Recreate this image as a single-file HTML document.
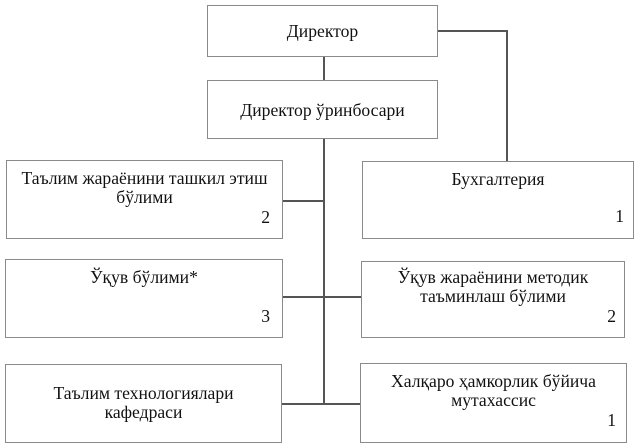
<!DOCTYPE html>
<html><head><meta charset="utf-8"><style>
body{margin:0;width:642px;height:447px;background:#fff;position:relative;overflow:hidden;font-family:"Liberation Serif",serif;color:#111}
.b{position:absolute;border:1px solid #8a8a8a;box-sizing:border-box;background:#fff}
.t{position:absolute;left:0;right:0;text-align:center;font-size:17.6px;line-height:19px;white-space:nowrap}
.n{position:absolute;font-size:17.6px;line-height:19px}
.l{position:absolute;background:#555}
</style></head><body>
<div class="l" style="left:323px;top:56px;width:2px;height:25px"></div>
<div class="l" style="left:323px;top:139px;width:2px;height:266px"></div>
<div class="l" style="left:437px;top:30px;width:71px;height:2px"></div>
<div class="l" style="left:506px;top:30px;width:2px;height:132px"></div>
<div class="l" style="left:282px;top:200px;width:42px;height:2px"></div>
<div class="l" style="left:282px;top:296px;width:80px;height:2px"></div>
<div class="l" style="left:282px;top:403px;width:80px;height:2px"></div>

<div class="b" style="left:207px;top:5px;width:231px;height:52px"><div class="t" style="top:16px">Директор</div></div>
<div class="b" style="left:207px;top:80px;width:231px;height:59px"><div class="t" style="top:20px">Директор ўринбосари</div></div>

<div class="b" style="left:6px;top:160px;width:277px;height:79px"><div class="t" style="top:8px">Таълим жараёнини ташкил этиш<br>бўлими</div><div class="n" style="right:12px;top:47px">2</div></div>
<div class="b" style="left:362px;top:161px;width:272px;height:78px"><div class="t" style="top:8px">Бухгалтерия</div><div class="n" style="right:9px;top:45px">1</div></div>

<div class="b" style="left:5px;top:259px;width:278px;height:79px"><div class="t" style="top:8px">Ўқув бўлими*</div><div class="n" style="right:12px;top:47px">3</div></div>
<div class="b" style="left:361px;top:261px;width:264px;height:77px"><div class="t" style="top:6px">Ўқув жараёнини методик<br>таъминлаш бўлими</div><div class="n" style="right:8px;top:45px">2</div></div>

<div class="b" style="left:5px;top:364px;width:277px;height:79px"><div class="t" style="top:19px">Таълим технологиялари<br>кафедраси</div></div>
<div class="b" style="left:360px;top:363px;width:267px;height:80px"><div class="t" style="top:8px">Халқаро ҳамкорлик бўйича<br>мутахассис</div><div class="n" style="right:10px;top:47px">1</div></div>
</body></html>
